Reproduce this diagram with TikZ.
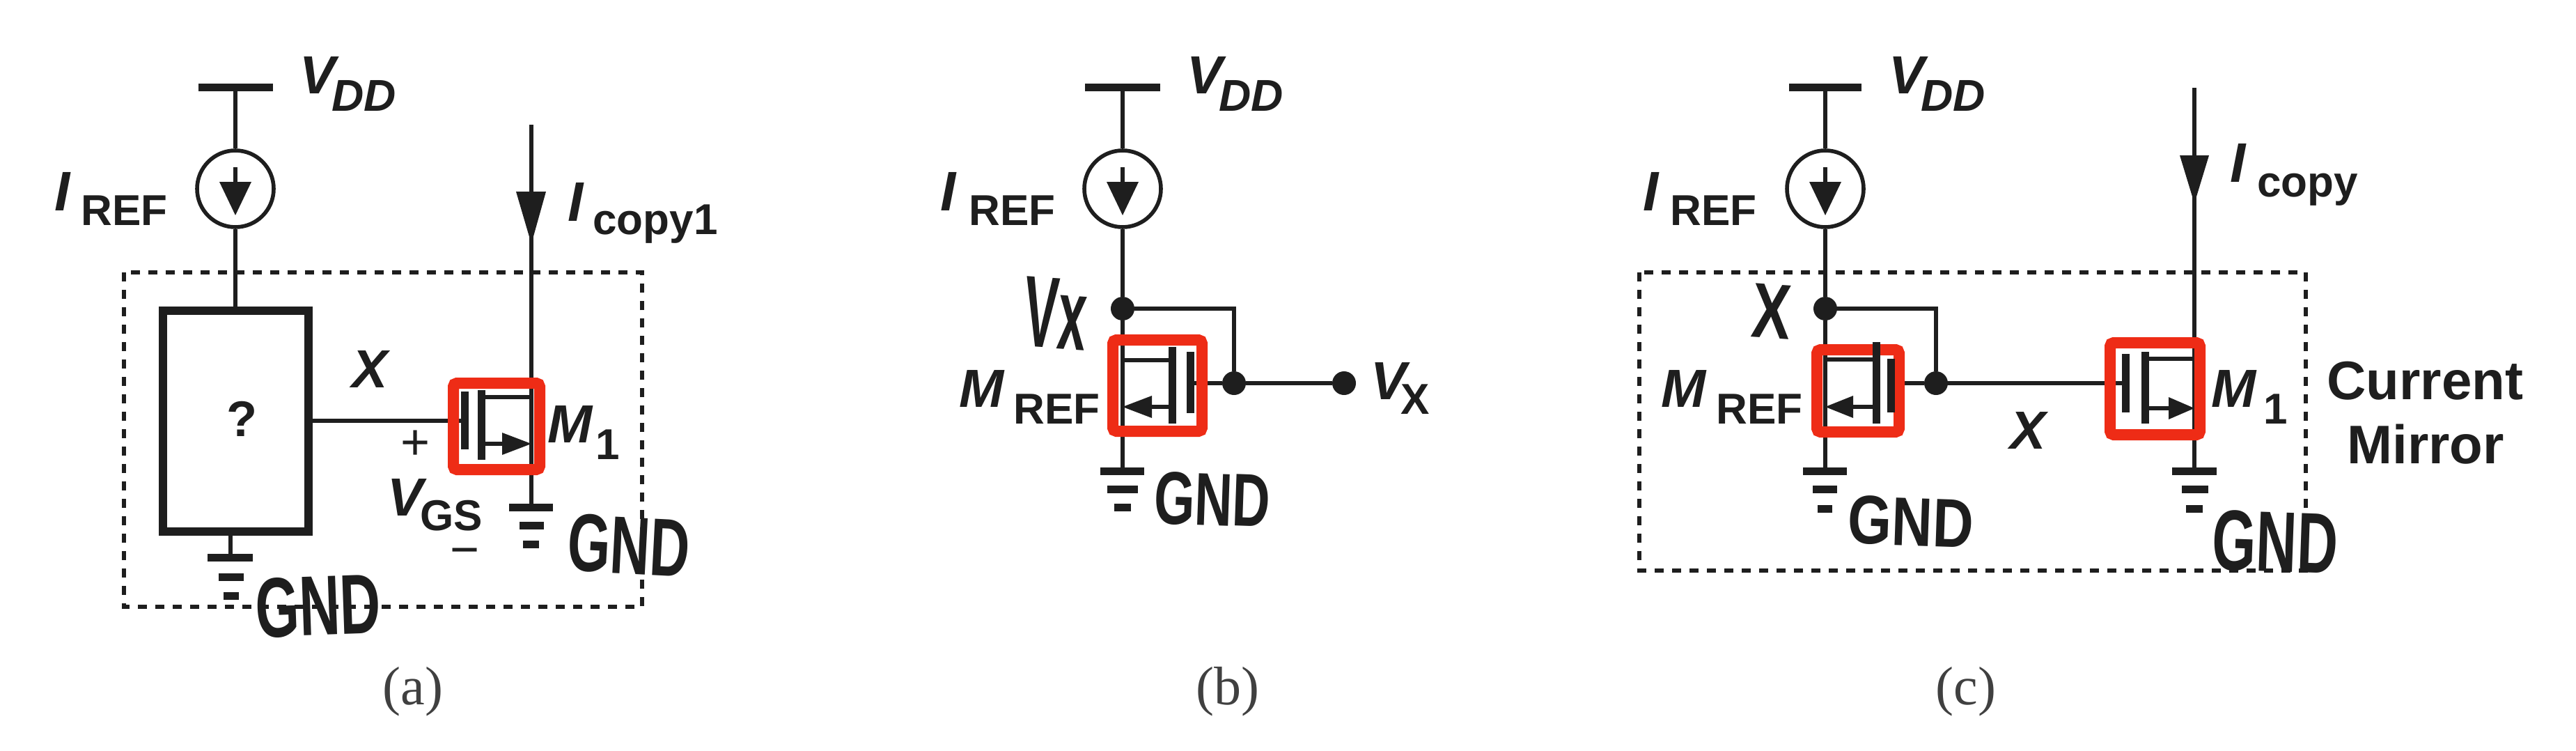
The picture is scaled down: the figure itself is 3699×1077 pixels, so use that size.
\documentclass[tikz,border=0pt]{standalone}
\usepackage{fontspec}
\setmainfont{Liberation Sans}
\newfontfamily\capfont{Liberation Serif}
\usetikzlibrary{arrows.meta}
\definecolor{ink}{HTML}{1E1E1E}
\definecolor{mark}{HTML}{EE2C16}
\newcommand{\fs}[1]{\fontsize{#1}{#1}\selectfont}
\newcommand{\handtext}[3]{\resizebox{\dimexpr #1pt/2\relax}{\dimexpr #2pt/2\relax}{\bfseries #3}}
\newcommand{\hand}[2]{\handtext{#1}{#2}{GND}}
\tikzset{
  x=0.5pt,y=-0.5pt,
  wire/.style={draw=ink,line width=3pt},
  thin wire/.style={draw=ink,line width=2.6pt},
  bar/.style={draw=ink,line width=5.5pt},
  plate/.style={draw=ink,line width=5.5pt},
  dashbox/.style={draw=ink,line width=2.7pt,dash pattern=on 6.5pt off 6pt},
  block/.style={draw=ink,line width=6pt,inner sep=0pt,fill=white},
  redbox/.style={draw=mark,line width=8pt,rounded corners=2.5pt,inner sep=0pt},
  src/.style={circle,draw=ink,line width=2.8pt,minimum size=55pt,inner sep=0pt,fill=white},
  dot/.style={circle,fill=ink,minimum size=17pt,inner sep=0pt},
  lab/.style={anchor=base west,inner sep=0pt,text=ink},
  ctr/.style={anchor=center,inner sep=0pt,text=ink},
  bigi/.style={font=\bfseries\itshape\fs{38.5}},
  ibig/.style={font=\bfseries\itshape\fs{40}},
  subi/.style={font=\bfseries\itshape\fs{32}},
  subr/.style={font=\bfseries\fs{31}},
  word/.style={font=\bfseries\fs{39}},
  sign/.style={font=\fs{36}},
  caption/.style={anchor=center,inner sep=0pt,text=ink!85,font=\capfont\fs{39}},
  head/.style={fill=ink,draw=none},
}
\begin{document}
\begin{tikzpicture}
\useasboundingbox (0,0) rectangle (3699,1077);
\fill[white] (0,0) rectangle (3699,1077);

%% ---------- panel (a) ----------
\coordinate (avdd) at (338,125);
\coordinate (abtop) at (338,446);
\coordinate (abbot) at (331,763);
\coordinate (abgnd) at (331,800);
\coordinate (aitop) at (763,179);
\coordinate (am1d) at (763,570);
\coordinate (am1s) at (763,637);
\coordinate (am1g) at (763,728);
\coordinate (agate) at (667,604);
\draw[dashbox] (178,391) rectangle (922,871);
\node[src] (asrc) at (338,271) {};
\draw[wire] (avdd) -- (asrc);
\draw[wire] (asrc) -- (abtop);
\draw[bar] (285,125) -- (392,125);
\node[block,minimum width=104.5pt,minimum height=158.5pt] (abox) at (338.5,604.5) {};
\draw[wire] (abox.east |- agate) -- (agate);
\draw[wire] (abbot) -- (abgnd);
\draw[bar] (298,800) -- (363,800);
\draw[bar] (314,828) -- (350,828);
\draw[bar] (321,855) -- (343,855);
\draw[wire] (aitop) -- (am1g);
\fill[head] (741,275) -- (784,275) -- (763,350) -- cycle;
\draw[bar] (731,728) -- (794,728);
\draw[bar] (746,754) -- (781,754);
\draw[bar] (751,781) -- (774,781);
\draw[wire] (338,240) -- (338,265);
\fill[head] (315,261) -- (361,261) -- (338,309) -- cycle;
\node[redbox,minimum width=62pt,minimum height=62pt] (am1) at (713,612) {};
\draw[plate] (667,562) -- (667,645);
\draw[plate] (691,560) -- (691,660);
\draw[wire] (691,570) -- (am1d);
\draw[wire] (691,637) -- (725,637);
\fill[head] (721,621) -- (721,653) -- (am1s) -- cycle;

\node[lab,bigi] (avddv) at (430,134) {V};
\node[lab,subi] (avddd) at (476,159) {DD};
\node[lab,ibig] (aii) at (78,302) {I};
\node[lab,subr] (airef) at (116,323) {REF};
\node[lab,ibig] (aci) at (815,317) {I};
\node[lab,subr] (accopy) at (851,336) {copy1};
\node[lab,font=\bfseries\fs{36}] (aq) at (325,626) {?};
\node[lab,bigi] (ax) at (505,556) {X};
\node[lab,bigi] (amm) at (786,635) {M};
\node[lab,subr] (am1n) at (855,659) {1};
\node[ctr,sign] (aplus) at (597,639) {+};
\node[lab,bigi] (avgv) at (556,740) {V};
\node[lab,subr] (avgs) at (603,761) {GS};
\node[ctr,sign] (aminus) at (668,800) {−};
\node[ctr,rotate=-3] (agnd1) at (903,783) {\hand{176}{82}};
\node[ctr,rotate=2] (agnd2) at (457,870) {\hand{180}{85}};
\node[caption] (acap) at (593,993) {(a)};

%% ---------- panel (b) ----------
\coordinate (bvdd) at (1612,125);
\coordinate (bd) at (1612,517);
\coordinate (bs) at (1612,584);
\coordinate (bgnd) at (1612,676);
\coordinate (bcorner) at (1772,443);
\coordinate (bgate) at (1709,550);
\node[src] (bsrc) at (1612,271) {};
\draw[wire] (bvdd) -- (bsrc);
\draw[bar] (1558,125) -- (1666,125);
\fill[head] (1589,261) -- (1635,261) -- (1612,309) -- cycle;
\draw[wire] (1612,240) -- (1612,265);
\node[dot] (bn1) at (1612,443) {};
\node[dot] (bn2) at (1772,550) {};
\node[dot] (bn3) at (1930,550) {};
\draw[wire] (bsrc) -- (bn1);
\draw[thin wire] (bn1) -- (bcorner) -- (bn2);
\draw[thin wire] (bgate) -- (bn2);
\draw[thin wire] (bn2) -- (bn3);
\draw[wire] (bn1) -- (bgnd);
\draw[bar] (1580,676) -- (1643,676);
\draw[bar] (1590,702) -- (1634,702);
\draw[bar] (1600,728) -- (1624,728);
\node[redbox,minimum width=64pt,minimum height=65.5pt] (bm) at (1662,553.5) {};
\draw[plate] (1683,498) -- (1683,608);
\draw[plate] (1709,505) -- (1709,593);
\draw[wire] (1683,517) -- (bd);
\draw[wire] (1683,584) -- (1650,584);
\fill[head] (1654,568) -- (1654,600) -- (bs) -- cycle;

\node[lab,bigi] (bvddv) at (1704,134) {V};
\node[lab,subi] (bvddd) at (1750,159) {DD};
\node[lab,ibig] (bii) at (1350,302) {I};
\node[lab,subr] (biref) at (1391,323) {REF};
\node[ctr,rotate=-4] (bvxh) at (1516,450) {\handtext{90}{100}{Vx}};
\node[lab,bigi] (bmm) at (1377,584) {M};
\node[lab,subr] (bmref) at (1455,608) {REF};
\node[lab,bigi] (bvx) at (1968,573) {V};
\node[lab,subr] (bvxs) at (2011,594) {X};
\node[ctr,rotate=-2] (bgndt) at (1741,717) {\hand{167}{75}};
\node[caption] (bcap) at (1763,993) {(b)};

%% ---------- panel (c) ----------
\coordinate (cvdd) at (2621,125);
\coordinate (cd) at (2621,516);
\coordinate (cs) at (2621,584);
\coordinate (cgnd) at (2621,676);
\coordinate (ccorner) at (2780,443);
\coordinate (cgl) at (2715,550);
\coordinate (cgr) at (3052,550);
\coordinate (citop) at (3151,126);
\coordinate (cm1d) at (3151,515);
\coordinate (cm1s) at (3151,586);
\coordinate (cgnd2) at (3151,676);
\draw[dashbox] (2354,391) rectangle (3311,819);
\node[src] (csrc) at (2621,271) {};
\draw[wire] (cvdd) -- (csrc);
\draw[bar] (2569,125) -- (2673,125);
\fill[head] (2598,261) -- (2644,261) -- (2621,309) -- cycle;
\draw[wire] (2621,240) -- (2621,265);
\node[dot] (cn1) at (2621,443) {};
\node[dot] (cn2) at (2780,550) {};
\draw[wire] (csrc) -- (cn1);
\draw[thin wire] (cn1) -- (ccorner) -- (cn2);
\draw[thin wire] (cgl) -- (cn2);
\draw[thin wire] (cn2) -- (cgr);
\draw[wire] (cn1) -- (cgnd);
\draw[bar] (2589,676) -- (2652,676);
\draw[bar] (2603,702) -- (2638,702);
\draw[bar] (2610,730) -- (2631,730);
\draw[wire] (citop) -- (cgnd2);
\fill[head] (3130,223) -- (3172,223) -- (3151,292) -- cycle;
\draw[bar] (3119,676) -- (3183,676);
\draw[bar] (3133,702) -- (3171,702);
\draw[bar] (3139,730) -- (3163,730);
\node[redbox,minimum width=59pt,minimum height=59pt] (cml) at (2668,561) {};
\node[redbox,minimum width=64.5pt,minimum height=66pt] (cmr) at (3094.5,558) {};
\draw[plate] (2694,491) -- (2694,608);
\draw[plate] (2715,515) -- (2715,592);
\draw[wire] (2694,516) -- (cd);
\draw[wire] (2694,584) -- (2657,584);
\fill[head] (2661,568) -- (2661,600) -- (cs) -- cycle;
\draw[plate] (3052,508) -- (3052,592);
\draw[plate] (3080,505) -- (3080,608);
\draw[wire] (3080,515) -- (cm1d);
\draw[wire] (3080,586) -- (3118,586);
\fill[head] (3114,570) -- (3114,602) -- (cm1s) -- cycle;

\node[lab,bigi] (cvddv) at (2712,134) {V};
\node[lab,subi] (cvddd) at (2758,159) {DD};
\node[lab,ibig] (cii) at (2359,302) {I};
\node[lab,subr] (ciref) at (2398,323) {REF};
\node[lab,ibig] (cci) at (3202,261) {I};
\node[lab,subr] (cccopy) at (3241,282) {copy};
\node[ctr,rotate=-4] (cxh) at (2544,447) {\handtext{56}{77}{X}};
\node[lab,bigi] (cmm) at (2385,584) {M};
\node[lab,subr] (cmref) at (2464,608) {REF};
\node[lab,bigi] (cm1m) at (3175,584) {M};
\node[lab,subr] (cm1n) at (3250,608) {1};
\node[lab,bigi] (cx) at (2886,644) {X};
\node[lab,word] (ccur) at (3341,573) {Current};
\node[lab,word] (cmir) at (3370,665) {Mirror};
\node[ctr,rotate=-2] (cgnd1t) at (2744,749) {\hand{180}{69}};
\node[ctr,rotate=-2] (cgnd2t) at (3267,778) {\hand{180}{86}};
\node[caption] (ccap) at (2823,993) {(c)};
\end{tikzpicture}
\end{document}
